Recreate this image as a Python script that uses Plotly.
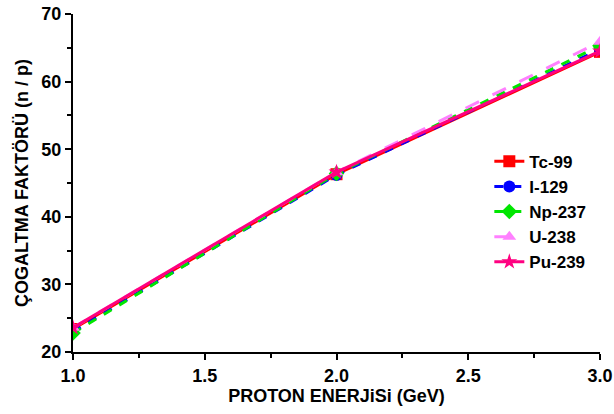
import plotly.graph_objects as go

energy = [1.0, 2.0, 3.0]
tc99 = [23.4, 46.3, 64.4]
i129 = [23.0, 46.2, 64.8]
np237 = [22.8, 46.4, 65.3]
u238 = [23.6, 46.6, 65.9]
pu239 = [23.6, 46.6, 64.5]

series = [
    ("Tc-99", tc99, "#ff0000", "solid", "square"),
    ("I-129", i129, "#0000ff", "dash", "circle"),
    ("Np-237", np237, "#00e600", "dash", "diamond"),
    ("U-238", u238, "#ff80ff", "longdash", "triangle-up"),
    ("Pu-239", pu239, "#ff0080", "solid", "star"),
]

fig = go.Figure()
for name, vals, col, dash, sym in series:
    fig.add_trace(go.Scatter(
        x=energy, y=vals, name=name, mode="lines+markers",
        line=dict(color=col, width=3, dash=dash),
        marker=dict(symbol=sym, size=12, color=col),
    ))

font = "Liberation Sans, Arial, sans-serif"
fig.update_layout(
    width=614, height=414,
    margin=dict(l=73, r=14, t=14, b=62, autoexpand=False),
    paper_bgcolor="white", plot_bgcolor="white",
    font=dict(family=font, color="black"),
    legend=dict(x=0.79, y=0.616, xanchor="left", yanchor="top",
                font=dict(size=17, family=font, weight="bold"),
                bgcolor="rgba(0,0,0,0)", tracegroupgap=0, itemwidth=30),
    showlegend=True,
)
fig.update_xaxes(
    range=[1.0, 3.0], tickvals=[1.0, 1.5, 2.0, 2.5, 3.0],
    ticktext=["1.0", "1.5", "2.0", "2.5", "3.0"],
    ticks="outside", ticklen=6, tickwidth=2, tickcolor="black",
    minor=dict(dtick=0.25, ticks="outside", ticklen=4, tickwidth=2, tickcolor="black"),
    showline=True, linewidth=2, linecolor="black", showgrid=False, zeroline=False,
    automargin=False, ticklabeloverflow="allow",
    tickfont=dict(size=18, family=font, weight="bold"),
    title=dict(text="PROTON ENERJiSi (GeV)", font=dict(size=18, family=font, weight="bold"), standoff=4),
)
fig.update_yaxes(
    range=[20, 70], tickvals=[20, 30, 40, 50, 60, 70],
    ticks="outside", ticklen=6, tickwidth=2, tickcolor="black",
    minor=dict(dtick=5, ticks="outside", ticklen=4, tickwidth=2, tickcolor="black"),
    showline=True, linewidth=2, linecolor="black", showgrid=False, zeroline=False,
    automargin=True, ticklabeloverflow="allow",
    tickfont=dict(size=18, family=font, weight="bold"),
    title=dict(text="ÇOGALTMA FAKTÖRÜ (n / p)", font=dict(size=18, family=font, weight="bold"), standoff=8),
)
fig.write_html(
    "out.html",
    config={"displayModeBar": False},
    post_script="document.body.style.margin='0';document.body.style.overflow='hidden';",
)
